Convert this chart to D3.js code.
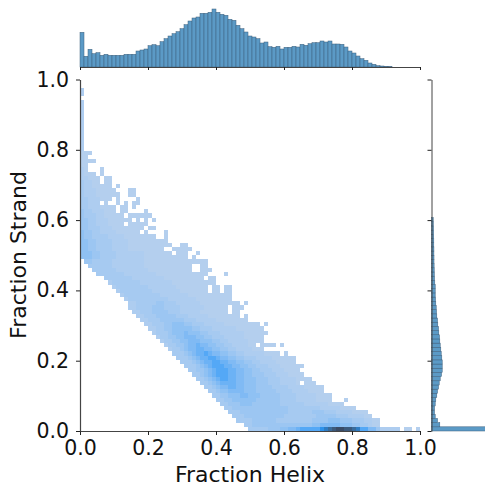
<!DOCTYPE html>
<html>
<head>
<meta charset="utf-8">
<script src="https://cdn.jsdelivr.net/npm/d3@7"></script>
<style>
  html, body { margin: 0; padding: 0; background: #fff; overflow: hidden; }
  text { font-family: "DejaVu Sans", sans-serif; fill: #111; }
</style>
</head>
<body>
<svg id="chart"></svg>
<script>
var xLabel = "Fraction Helix",
  yLabel = "Fraction Strand";
var tickValues = [0, 0.2, 0.4, 0.6, 0.8, 1.0];

var binCountX = 85,
  binCountY = 84;

// marginal histogram over Fraction Helix, left to right
var helixCounts = [34.7, 10.7, 17.7, 13.3, 14.3, 11.7, 12.7, 11.7, 11.7, 11.7, 11.7, 12.7, 12.7, 12.7, 16, 17, 18, 21.3, 22.3, 21.3,
  25.3, 28.3, 31, 33.3, 35.3, 38.3, 42.3, 46, 49, 50, 53.7, 53.7, 54.7, 58, 54.7, 52.7, 51.7, 47.7, 46.7, 41.7,
  38.3, 35, 31, 30, 28.3, 24, 25, 20.3, 19.7, 20.7, 18, 19.7, 19.7, 20.7, 20, 22.7, 21.7, 23.3, 24.3, 24.3,
  26, 25, 26, 23, 23, 22.7, 20, 16, 14, 11, 8.3, 6.7, 4, 2.7, 1.3, 1, 0.7, 0.4];

// marginal histogram over Fraction Strand, bottom to top
var strandCounts = [90, 8.3, 6, 3.7, 3, 3, 3.7, 4.3, 5.3, 6, 7, 7.7, 8.7, 10, 10.7, 10.7, 10.7, 10.3, 9.7, 9.3,
  8.7, 8.3, 8, 7.3, 7, 6.3, 6, 5.3, 5, 4.7, 4.3, 4, 3.7, 3.7, 3.7, 3.3, 3, 2.8, 2.7, 2.6,
  2.5, 2.5, 2.4, 2.4, 2.3, 2.3, 2.2, 2.1, 2, 1.8, 1.7];

// 2d histogram, first helix bin of each strand row and one level per bin ("." = empty), row 0 is strand = 0
var gridOffsets = [42, 41, 39, 38, 37, 36, 35, 34, 33, 32, 31, 30, 29, 28, 27, 26, 25, 24, 23, 22, 21, 20, 19, 18, 17, 16, 15, 14, 13, 12,
  12, 11, 10, 9, 8, 7, 6, 4, 3, 2, 1];
var gridCells = [
  "3333344455667888889abcddccba8866422222.11.1",
  "3344444444444444455666665554433211",
  "333344444433333333344445554443332211",
  "33344444444443333333344444333222211",
  "33344444444444433333344433322221111",
  "334444444444444433333333222221111",
  "3344455544444443333332222221111",
  "33445555554444443333222221111...1",
  "334455566555444443333222221111",
  "33455666655544444333322221111",
  "334566776655544443333222211111",
  "3345677776655544433322221.111",
  "33456788776655544433322221111",
  "3345678887766554443332221111",
  "3344567888776655443332221111",
  "333456788877665544333222111111",
  "33345677887766554433222211111",
  "333456778876655443332222111111",
  "333456778766554433222221111.1",
  "233456677665544332222111",
  "23344566766554433222211.1111.1",
  "23344556665554433222221111",
  "233445566655443332222211111",
  "23334555655544333222222111111",
  "22334455555443332222221111111",
  "22333445554433322222111111111.1",
  "223334444443332222211111111",
  "22333444443332222211111111.1",
  "223334444333222221111111.11",
  "2233334443333222222111111.111",
  "2233333443332222221111111111.1",
  "233333333332222222111111111",
  "2333333333222222211111111111",
  "23333333322222221111111.11.11",
  "233333333222222211111111.11.11",
  "233333332222222211111111111",
  "3333333222222221111111111.11",
  "3333333222222221111111111111....1",
  "3333332222222211111111111..111",
  "33333322222222111111111111..11",
  "4433333222222221111111111111111",
  "555443333222222211111111111.1",
  "55544333322222221111111.111..1",
  "554433332222111111111..11111",
  "55443333222211111111111..11",
  "5544333322221111111111",
  "5443333222211111111..1",
  "544332222111111.1....1",
  "4433322211111111.11",
  "44332221111.11111",
  "4433222111111.1.1.1",
  "43332211111.111111",
  "433222111.11....1",
  "332221111.11.1",
  "33222.1..1.1.11",
  "33222111.1....1",
  "3222111111..11",
  "322211111...11",
  "32211111.1",
  "32211.11",
  "22111.11",
  "2111.1",
  "21...1",
  "11",
  "1111",
  "11",
  "111",
  "2", "2", "2", "2", "2", "2", "2", "2", "2", "2", "2", "2",
  "",
  "2", "2"
];

var levelKeys = ["1", "2", "3", "4", "5", "6", "7", "8", "9", "a", "b", "c", "d"];
var levelColors = ["#b4cfee", "#aecdf0", "#a6caf1", "#9cc6f2", "#8fc1f3", "#80baf4", "#6cb2f5", "#54a8f6",
  "#2f92ea", "#2f7dc4", "#3a6c9c", "#3c5a7c", "#3a4c66"];

var width = 485,
  height = 482;
var main = {left: 80, right: 420, top: 79.5, bottom: 431};

var svg = d3.select("#chart")
  .attr("width", width)
  .attr("height", height);

var x = d3.scaleLinear().domain([0, 1]).range([main.left, main.right]);
var y = d3.scaleLinear().domain([0, 1]).range([main.bottom, main.top]);
var color = d3.scaleOrdinal(levelKeys, levelColors);

var binX = d3.scaleLinear().domain([0, binCountX]).range([x(0), x(1)]);
var binY = d3.scaleLinear().domain([0, binCountY]).range([y(0), y(1)]);

// 2d histogram
var cells = [];
gridCells.forEach(function (row, r) {
  var offset = r < gridOffsets.length ? gridOffsets[r] : 0;
  row.split("").forEach(function (level, i) {
    if (level != ".") cells.push({col: offset + i, row: r, level: level});
  });
});

svg.append("g")
  .selectAll("rect")
  .data(cells)
  .enter().append("rect")
  .attr("x", function (d) { return binX(d.col); })
  .attr("y", function (d) { return binY(d.row + 1); })
  .attr("width", binX(1) - binX(0))
  .attr("height", binY(0) - binY(1))
  .attr("fill", function (d) { return color(d.level); })
  .attr("shape-rendering", "crispEdges");

// top marginal
var topBase = 67;
var topScale = d3.scaleLinear().domain([0, 58]).range([topBase, topBase - 58]);

svg.append("g")
  .selectAll("rect")
  .data(helixCounts)
  .enter().append("rect")
  .attr("x", function (d, i) { return binX(i); })
  .attr("y", function (d) { return topScale(d); })
  .attr("width", binX(1) - binX(0))
  .attr("height", function (d) { return topBase - topScale(d); })
  .attr("fill", "#5b9ac6")
  .attr("stroke", "#3d5f7c")
  .attr("stroke-width", 0.5);

// right marginal
var rightBase = 431.5;
var rightScale = d3.scaleLinear().domain([0, 58]).range([rightBase, rightBase + 58]);

svg.append("g")
  .selectAll("rect")
  .data(strandCounts)
  .enter().append("rect")
  .attr("x", rightBase)
  .attr("y", function (d, i) { return binY(i + 1); })
  .attr("width", function (d) { return rightScale(d) - rightBase; })
  .attr("height", binY(0) - binY(1))
  .attr("fill", "#5b9ac6")
  .attr("stroke", "#3d5f7c")
  .attr("stroke-width", 0.5);

var tickFormat = d3.format(".1f");

function styleAxis(g, strokeWidth) {
  g.selectAll(".domain").attr("stroke", "#444").attr("stroke-width", strokeWidth);
  g.selectAll(".tick line").attr("stroke", "#222").attr("stroke-width", 1);
}

var xAxis = svg.append("g")
  .attr("transform", "translate(0," + main.bottom + ")")
  .call(d3.axisBottom(x).tickValues(tickValues).tickFormat(tickFormat).tickSize(4).tickSizeOuter(0));
xAxis.call(styleAxis, 1.2);
xAxis.selectAll("text").attr("font-size", 20.5).attr("dy", 0).attr("y", 24);

var yAxis = svg.append("g")
  .attr("transform", "translate(" + main.left + ",0)")
  .call(d3.axisLeft(y).tickValues(tickValues).tickFormat(tickFormat).tickSize(4).tickSizeOuter(0));
yAxis.call(styleAxis, 1.2);
yAxis.selectAll("text").attr("font-size", 20.5).attr("x", -11);

var topAxis = svg.append("g")
  .attr("transform", "translate(0," + topBase + ")")
  .call(d3.axisBottom(x).tickValues(tickValues).tickFormat("").tickSize(3).tickSizeOuter(0));
topAxis.call(styleAxis, 1.2);

var rightAxis = svg.append("g")
  .attr("transform", "translate(" + rightBase + ",0)")
  .call(d3.axisLeft(y).tickValues(tickValues).tickFormat("").tickSize(4).tickSizeOuter(0));
rightAxis.call(styleAxis, 1);

svg.append("text")
  .attr("x", (main.left + main.right) / 2)
  .attr("y", 481.5)
  .attr("text-anchor", "middle")
  .attr("font-size", 22)
  .text(xLabel);

svg.append("text")
  .attr("transform", "translate(26," + 255 + ") rotate(-90)")
  .attr("text-anchor", "middle")
  .attr("font-size", 22)
  .text(yLabel);
</script>
</body>
</html>
